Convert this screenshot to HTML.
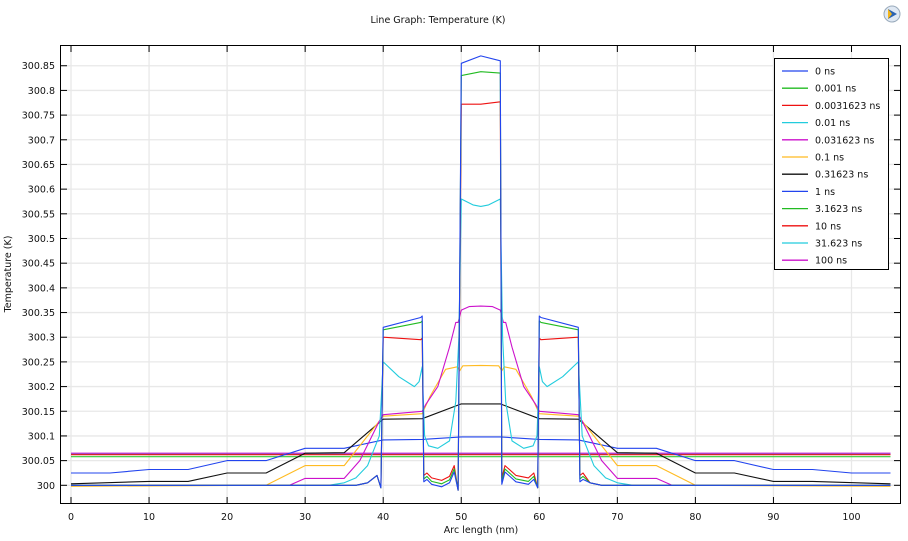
<!DOCTYPE html>
<html><head><meta charset="utf-8"><style>
body{margin:0;background:#fff;width:908px;height:541px;overflow:hidden;font-family:"Liberation Sans","DejaVu Sans",sans-serif}
svg{display:block}
text{font-family:"DejaVu Sans","Liberation Sans",sans-serif;font-size:9.5px;fill:#111}
</style></head><body>
<svg id="s" width="908" height="541" xmlns="http://www.w3.org/2000/svg">
<rect width="908" height="541" fill="#fff"/>
<text x="438" y="23" text-anchor="middle">Line Graph: Temperature (K)</text>
<circle cx="892" cy="14" r="8" fill="#dfe8f3" stroke="#9ab" stroke-width="1"/>
<path d="M888 9 L897 14 L888 19 Z" fill="#2a62b0"/>
<path d="M888 9 L892 14 L888 19 Z" fill="#f2b51c"/>
<g id="grid"></g>
<g id="series" fill="none" stroke-width="1.1" stroke-linejoin="round"></g>
<rect x="60.5" y="45.5" width="840" height="458" fill="none" stroke="#000" stroke-width="1"/>
<g id="ticks"></g>
<text x="481" y="533" text-anchor="middle">Arc length (nm)</text>
<text transform="translate(11,274) rotate(-90)" text-anchor="middle">Temperature (K)</text>
<g id="legend"></g>
</svg>
<script>
var NS="http://www.w3.org/2000/svg";
function X(s){return 71+s*7.805}
function Y(t){return 485.3-(t-300)*493.6}
function el(p,tag,a,txt){var e=document.createElementNS(NS,tag);for(var k in a)e.setAttribute(k,a[k]);if(txt!=null)e.textContent=txt;document.getElementById(p).appendChild(e);return e}
for(var i=0;i<=100;i+=10){var x=X(i);el("grid","line",{x1:x,y1:46,x2:x,y2:503,stroke:"#e8e8e8","stroke-width":1.3});
 el("ticks","line",{x1:x,y1:503,x2:x,y2:497,stroke:"#000"});el("ticks","line",{x1:x,y1:46,x2:x,y2:52,stroke:"#000"});
 el("ticks","text",{x:x,y:520,"text-anchor":"middle"},String(i));}
for(var j=0;j<=17;j++){var t=300+j*0.05,y=Y(t);el("grid","line",{x1:61,y1:y,x2:900,y2:y,stroke:"#e8e8e8","stroke-width":1.3});
 el("ticks","line",{x1:61,y1:y,x2:67,y2:y,stroke:"#000"});el("ticks","line",{x1:900,y1:y,x2:894,y2:y,stroke:"#000"});
 var lab=(Math.round(t*100)/100).toString();el("ticks","text",{x:55,y:y+3.5,"text-anchor":"end"},lab);}
function sym(pts){var out=pts.slice();for(var i=pts.length-1;i>=0;i--){var s=105-pts[i][0];if(s>pts[pts.length-1][0]+0.01)out.push([s,pts[i][1]]);}return out}
function P(pts,c){var d=pts.map(function(p,i){return (i?"L":"M")+X(p[0]).toFixed(1)+" "+Y(p[1]).toFixed(1)}).join(" ");el("series","path",{d:d,stroke:c})}
function early(pad1,pad2,cen1,cen2,g,col){
 var L=[[0,300],[36.5,300],[38,300.005],[39.2,300.02],[39.7,299.995],[40,pad1],[44.8,pad2],[45,pad2+0.003],[45.2,g+0.01],[45.6,g+0.015],[46.2,g+0.005],[47.5,g],[48.5,g+0.008],[49.1,g+0.03],[49.6,299.99],[50,cen1],[52.5,cen2]];
 var R=[[52.5,cen2],[55,cen1+0.005],[55.2,g+0.005],[55.6,g+0.03],[57,g+0.01],[58.6,g+0.005],[59.3,g+0.015],[59.8,299.995],[60,pad2+0.003],[60.2,pad2],[65,pad1],[65.2,g+0.01],[65.6,g+0.015],[66.5,300.005],[68,300],[105,300]];
 P(L.concat(R.slice(1)),col);}
P([[0,300.058],[105,300.058]],"#3c3");
P([[0,300.063],[105,300.063]],"#1cc");
P([[0,300.065],[105,300.065]],"#c1c");
P([[0,300.062],[105,300.062]],"#e11");
P(sym([[0,300.025],[5,300.025],[10,300.032],[15,300.032],[20,300.05],[25,300.05],[30,300.075],[35,300.075],[40,300.092],[45,300.093],[50,300.098],[52.5,300.098]]),"#2244ee");
P(sym([[0,300.003],[10,300.008],[15,300.008],[20,300.025],[25,300.025],[30,300.065],[35,300.066],[40,300.134],[45,300.135],[50,300.165],[52.5,300.165]]),"#111");
P(sym([[0,299.998],[25,300],[30,300.04],[35,300.04],[38,300.1],[40,300.14],[45,300.145],[46,300.18],[48,300.235],[49.5,300.24],[49.8,300.232],[50.2,300.242],[52.5,300.243]]),"#fb2");
P(sym([[0,300],[28,300],[30,300.014],[35,300.014],[37,300.05],[39.5,300.13],[40,300.143],[45,300.15],[45.5,300.165],[47,300.2],[48.5,300.28],[49.3,300.33],[49.6,300.33],[50,300.355],[51,300.362],[52.5,300.363]]),"#c1c");
P(sym([[0,300],[33,300],[35,300.005],[36.5,300.015],[38,300.04],[39.5,300.1],[40,300.25],[42,300.22],[44,300.2],[44.6,300.21],[45,300.24],[45.3,300.1],[45.8,300.08],[47,300.075],[48.5,300.09],[49.3,300.17],[49.7,300.3],[50,300.58],[51.5,300.568],[52.5,300.565]]),"#2cd");
early(300.3,300.295,300.772,300.772,300.01,"#e11");
early(300.315,300.33,300.83,300.838,300.003,"#2b2");
early(300.32,300.34,300.855,300.87,299.997,"#2244ee");
el("legend","rect",{x:774.5,y:58.5,width:114,height:211,fill:"#fff",stroke:"#000"});
var names=["0 ns","0.001 ns","0.0031623 ns","0.01 ns","0.031623 ns","0.1 ns","0.31623 ns","1 ns","3.1623 ns","10 ns","31.623 ns","100 ns"];
var cols=["#2244ee","#2b2","#e11","#2cd","#c1c","#fb2","#111","#2244ee","#2b2","#e11","#2cd","#c1c"];
for(var k=0;k<12;k++){var yy=71+k*17.2;el("legend","line",{x1:782,y1:yy,x2:808,y2:yy,stroke:cols[k],"stroke-width":1.3});el("legend","text",{x:815,y:yy+3.5},names[k]);}
</script>
</body></html>
